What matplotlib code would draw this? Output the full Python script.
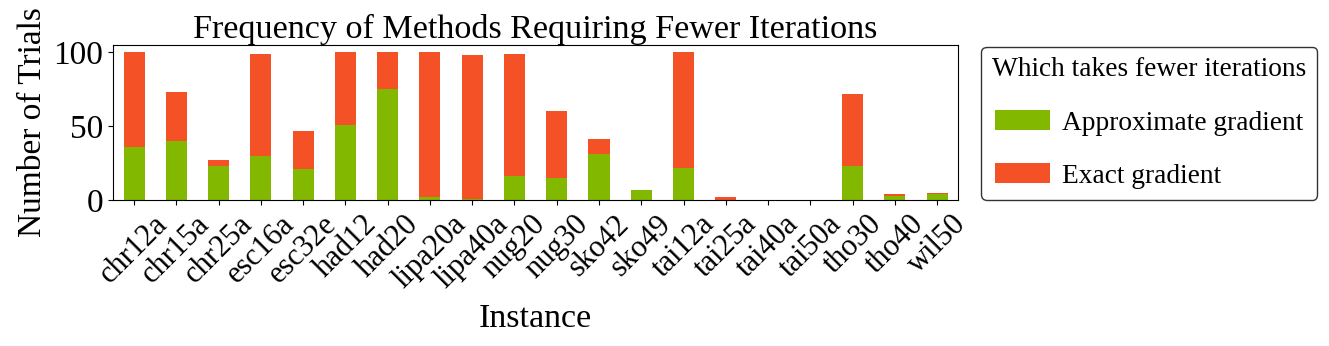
import matplotlib.pyplot as plt
import numpy as np

plt.rcParams['font.family'] = ['Liberation Serif', 'DejaVu Serif']

instances = ["chr12a", "chr15a", "chr25a", "esc16a", "esc32e", "had12", "had20",
             "lipa20a", "lipa40a", "nug20", "nug30", "sko42", "sko49", "tai12a",
             "tai25a", "tai40a", "tai50a", "tho30", "tho40", "wil50"]
approx = [36, 40, 23, 30, 21, 51, 75, 2, 1, 16, 15, 31, 7, 22, 0, 0, 0, 23, 3, 4]
exact = [64, 33, 4, 69, 26, 49, 25, 98, 97, 83, 45, 10, 0, 78, 2, 0, 0, 49, 1, 1]

fig = plt.figure(figsize=(13.29, 3.46), dpi=100)
ax = fig.add_axes([0.085, 0.422, 0.636, 0.448])

x = np.arange(len(instances))
ax.bar(x, approx, width=0.5, color="#82b800", label="Approximate gradient")
ax.bar(x, exact, width=0.5, bottom=approx, color="#f45226", label="Exact gradient")

ax.set_xlim(-0.5, len(instances) - 0.5)
ax.set_ylim(0, 105)
ax.set_xticks(x)
ax.set_xticklabels(instances, rotation=45, fontsize=22)
ax.set_yticks([0, 50, 100])
ax.tick_params(axis="y", labelsize=24)
ax.set_title("Frequency of Methods Requiring Fewer Iterations", fontsize=24.6, pad=5)
ax.set_xlabel("Instance", fontsize=24.5, labelpad=7)
ax.set_ylabel("Number of Trials", fontsize=24)

ax.legend(title="Which takes fewer iterations", loc="upper left",
          bbox_to_anchor=(1.027, 0.99), borderaxespad=0, fontsize=19.7, title_fontsize=19.7,
          labelspacing=1.02, borderpad=0.4, handlelength=2.0, handletextpad=0.45,
          framealpha=1, edgecolor="#333333", fancybox=True)

fig.savefig("out.png", dpi=100)
